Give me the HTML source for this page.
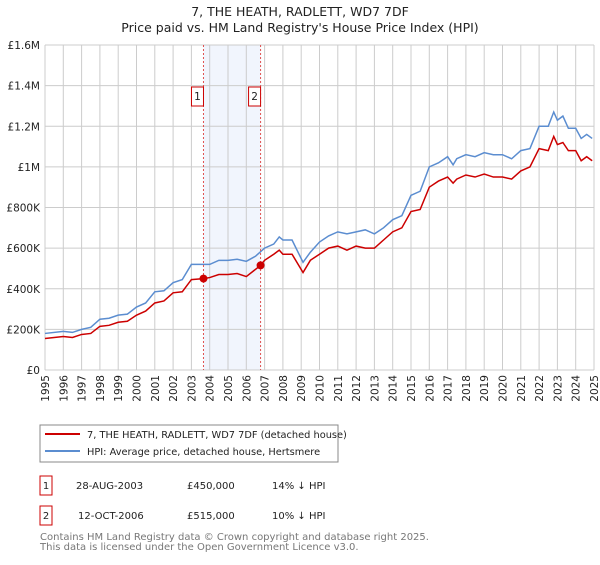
<!DOCTYPE html>
<html><head><meta charset="utf-8"><style>
body{margin:0;background:#fff;font-family:"Liberation Sans","DejaVu Sans",sans-serif;}
svg text{font-family:"DejaVu Sans","Liberation Sans",sans-serif;}
</style></head><body>
<svg id="chart" width="600" height="560" viewBox="0 0 600 560" xmlns="http://www.w3.org/2000/svg">
<text x="300" y="16" text-anchor="middle" font-size="12.5" fill="#222">7, THE HEATH, RADLETT, WD7 7DF</text>
<text x="300" y="32" text-anchor="middle" font-size="12.5" fill="#222">Price paid vs. HM Land Registry's House Price Index (HPI)</text>
<g id="grid"></g>
<g id="marks"></g>
<g id="axes"></g>
<g>
<rect x="40" y="425" width="298" height="37" fill="#fff" stroke="#888"/>
<line x1="45" y1="434" x2="80" y2="434" stroke="#cc0000" stroke-width="2"/>
<text x="87" y="438" font-size="9.8" fill="#222">7, THE HEATH, RADLETT, WD7 7DF (detached house)</text>
<line x1="45" y1="451" x2="80" y2="451" stroke="#5b8dd0" stroke-width="2"/>
<text x="87" y="455" font-size="9.8" fill="#222">HPI: Average price, detached house, Hertsmere</text>
</g>
<g font-size="10" fill="#222">
<rect x="40" y="476" width="12" height="19" fill="#fff" stroke="#cc0000"/>
<text x="46" y="489" text-anchor="middle">1</text>
<text x="76" y="489">28-AUG-2003</text><text x="187" y="489">£450,000</text><text x="272" y="489">14% ↓ HPI</text>
<rect x="40" y="506" width="12" height="19" fill="#fff" stroke="#cc0000"/>
<text x="46" y="519" text-anchor="middle">2</text>
<text x="78" y="519">12-OCT-2006</text><text x="187" y="519">£515,000</text><text x="272" y="519">10% ↓ HPI</text>
</g>
<text x="40" y="540" font-size="10" fill="#777">Contains HM Land Registry data © Crown copyright and database right 2025.</text>
<text x="40" y="550" font-size="10" fill="#777">This data is licensed under the Open Government Licence v3.0.</text>
</svg>
<script>
const hpiYears=[1995,1996,1996.5,1997,1997.5,1998,1998.5,1999,1999.5,2000,2000.5,2001,2001.5,2002,2002.5,2003,2003.5,2004,2004.5,2005,2005.5,2006,2006.5,2007,2007.5,2007.8,2008,2008.5,2009.1,2009.5,2010,2010.5,2011,2011.5,2012,2012.5,2013,2013.5,2014,2014.5,2015,2015.5,2016,2016.5,2017,2017.3,2017.5,2018,2018.5,2019,2019.5,2020,2020.5,2021,2021.5,2022,2022.5,2022.8,2023,2023.3,2023.6,2024,2024.3,2024.6,2024.9];
const hpiValues=[180,190,185,200,210,250,255,270,275,310,330,385,390,430,445,520,520,520,540,540,545,535,560,600,620,655,640,640,530,580,630,660,680,670,680,690,670,700,740,760,860,880,1000,1020,1050,1010,1040,1060,1050,1070,1060,1060,1040,1080,1090,1200,1200,1270,1230,1250,1190,1190,1140,1160,1140];
const propYears=[1995,1996,1996.5,1997,1997.5,1998,1998.5,1999,1999.5,2000,2000.5,2001,2001.5,2002,2002.5,2003,2003.66,2004,2004.5,2005,2005.5,2006,2006.78,2007,2007.5,2007.8,2008,2008.5,2009.1,2009.5,2010,2010.5,2011,2011.5,2012,2012.5,2013,2013.5,2014,2014.5,2015,2015.5,2016,2016.5,2017,2017.3,2017.5,2018,2018.5,2019,2019.5,2020,2020.5,2021,2021.5,2022,2022.5,2022.8,2023,2023.3,2023.6,2024,2024.3,2024.6,2024.9];
const propValues=[155,165,160,175,180,215,220,235,240,270,290,330,340,380,385,445,450,455,470,470,475,460,515,540,570,590,570,570,480,540,570,600,610,590,610,600,600,640,680,700,780,790,900,930,950,920,940,960,950,965,950,950,940,980,1000,1090,1080,1150,1110,1120,1080,1080,1030,1050,1030];
const saleYears=[2003.66,2006.78];
const saleValues=[450,515];
const saleLabels=["1","2"];
const yTicks=[0,200,400,600,800,1000,1200,1400,1600];
const yTickLabels=["£0","£200K","£400K","£600K","£800K","£1M","£1.2M","£1.4M","£1.6M"];
const xTicks=[1995,1996,1997,1998,1999,2000,2001,2002,2003,2004,2005,2006,2007,2008,2009,2010,2011,2012,2013,2014,2015,2016,2017,2018,2019,2020,2021,2022,2023,2024,2025];

const NS="http://www.w3.org/2000/svg";
const L=45,R=594,T=45,B=370;
const x=v=>L+(v-1995)/30*(R-L);
const y=v=>B-v/1600*(B-T);
function mk(tag,attrs,parent){const e=document.createElementNS(NS,tag);for(const k in attrs)e.setAttribute(k,attrs[k]);parent.appendChild(e);return e;}
const grid=document.getElementById('grid'),marks=document.getElementById('marks'),axes=document.getElementById('axes');
const shade=mk('rect',{x:x(saleYears[0]),y:T,width:x(saleYears[1])-x(saleYears[0]),height:B-T,fill:'#eef3fc',opacity:0.8},grid);


xTicks.forEach(t=>{mk('line',{x1:x(t),x2:x(t),y1:T,y2:B,stroke:'#ccc','stroke-width':1},grid);
 const tx=mk('text',{x:0,y:0,transform:`translate(${x(t)+4},${B+5}) rotate(-90)`,'text-anchor':'end','font-size':10.5,fill:'#222'},axes);
 tx.textContent=t;
 
 });
yTicks.forEach((t,i)=>{mk('line',{x1:L,x2:R,y1:y(t),y2:y(t),stroke:'#ccc','stroke-width':1},grid);
 const tx=mk('text',{x:L-5,y:y(t)+4,'text-anchor':'end','font-size':10.5,fill:'#222'},axes);
 tx.textContent=yTickLabels[i];
 
 });
function line(xs,vs,col,name){const p=mk('polyline',{points:xs.map((a,i)=>x(a)+','+y(vs[i])).join(' '),fill:'none',stroke:col,'stroke-width':1.5},marks);
 
 }
line(hpiYears,hpiValues,'#5b8dd0','hpi-line');
line(propYears,propValues,'#cc0000','property-line');
saleYears.forEach((s,i)=>{
 const v=mk('line',{x1:x(s),x2:x(s),y1:T,y2:B,stroke:'#e05050','stroke-dasharray':'2,2','stroke-width':1},marks);
 
 
 const c=mk('circle',{cx:x(s),cy:y(saleValues[i]),r:4,fill:'#cc0000'},marks);
 
 
 const bx=mk('rect',{x:x(s)-12,y:87,width:12,height:19,fill:'#fff',stroke:'#cc0000'},marks);
 
 
 const t=mk('text',{x:x(s)-6,y:100,'text-anchor':'middle','font-size':10.5,fill:'#222'},marks);
 t.textContent=saleLabels[i];
 
 });
</script>
</body></html>
